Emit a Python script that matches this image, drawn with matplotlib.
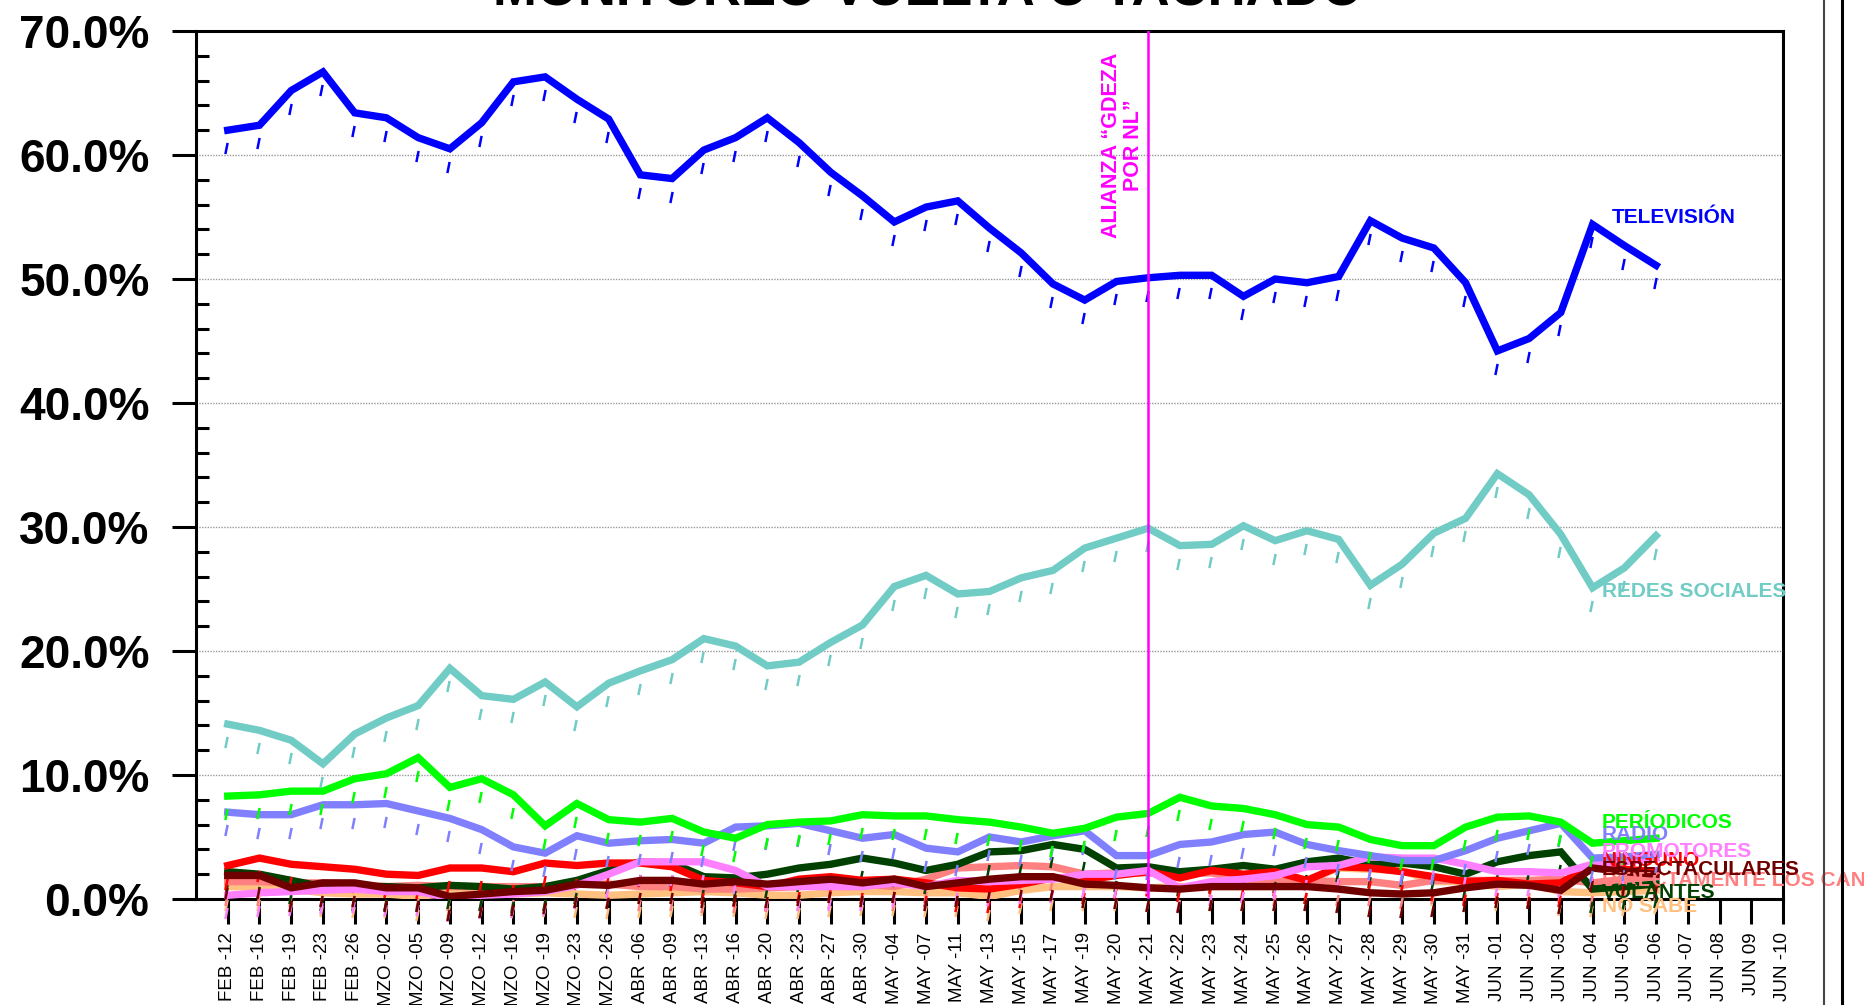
import matplotlib
matplotlib.use("Agg")
import matplotlib.pyplot as plt
from matplotlib.path import Path
from matplotlib.transforms import offset_copy
from matplotlib.ticker import MultipleLocator, FuncFormatter
from matplotlib.lines import Line2D

plt.rcParams['font.family'] = ['Liberation Sans', 'DejaVu Sans']

# categorías (fechas)
fechas = ['FEB -12', 'FEB -16', 'FEB -19', 'FEB -23', 'FEB -26',
          'MZO -02', 'MZO -05', 'MZO -09', 'MZO -12', 'MZO -16', 'MZO -19', 'MZO -23', 'MZO -26',
          'ABR -06', 'ABR -09', 'ABR -13', 'ABR -16', 'ABR -20', 'ABR -23', 'ABR -27', 'ABR -30',
          'MAY -04', 'MAY -07', 'MAY -11', 'MAY -13', 'MAY -15', 'MAY -17', 'MAY -19', 'MAY -20',
          'MAY -21', 'MAY -22', 'MAY -23', 'MAY -24', 'MAY -25', 'MAY -26', 'MAY -27', 'MAY -28',
          'MAY -29', 'MAY -30', 'MAY -31', 'JUN -01', 'JUN -02', 'JUN -03', 'JUN -04', 'JUN -05',
          'JUN -06', 'JUN -07', 'JUN -08', 'JUN 09', 'JUN -10']

# series (% por fecha, hasta JUN-06)
television = [62.0, 62.4, 65.2, 66.7, 63.4, 63.0, 61.4, 60.5, 62.6, 65.9, 66.3, 64.5, 62.9,
              58.4, 58.1, 60.4, 61.4, 63.0, 61.0, 58.6, 56.7, 54.6, 55.8, 56.3, 54.1, 52.1,
              49.6, 48.3, 49.8, 50.1, 50.3, 50.3, 48.6, 50.0, 49.7, 50.2, 54.7, 53.3, 52.5,
              49.7, 44.2, 45.2, 47.3, 54.4, 52.7, 51.1]
redes = [14.1, 13.6, 12.8, 10.9, 13.3, 14.6, 15.6, 18.6, 16.4, 16.1, 17.5, 15.5, 17.4,
         18.4, 19.3, 21.0, 20.4, 18.8, 19.1, 20.7, 22.1, 25.2, 26.1, 24.6, 24.8, 25.9,
         26.5, 28.3, 29.1, 29.9, 28.5, 28.6, 30.1, 28.9, 29.7, 29.0, 25.3, 27.0, 29.5,
         30.7, 34.3, 32.6, 29.4, 25.1, 26.7, 29.3]
periodicos = [8.3, 8.4, 8.7, 8.7, 9.7, 10.1, 11.4, 9.0, 9.7, 8.4, 5.9, 7.7, 6.4,
              6.2, 6.5, 5.4, 4.9, 6.0, 6.2, 6.3, 6.8, 6.7, 6.7, 6.4, 6.2, 5.8,
              5.3, 5.7, 6.6, 6.9, 8.2, 7.5, 7.3, 6.8, 6.0, 5.8, 4.8, 4.3, 4.3,
              5.8, 6.6, 6.7, 6.2, 4.5, 4.7, 4.9]
radio = [7.0, 6.8, 6.8, 7.6, 7.6, 7.7, 7.1, 6.5, 5.6, 4.2, 3.7, 5.1, 4.5,
         4.7, 4.8, 4.5, 5.8, 5.9, 6.1, 5.5, 4.9, 5.2, 4.1, 3.8, 5.0, 4.6,
         5.1, 5.5, 3.5, 3.5, 4.4, 4.6, 5.2, 5.4, 4.4, 3.9, 3.5, 3.1, 3.1,
         3.9, 4.9, 5.5, 6.1, 3.3, 3.4, 3.6]
promotores = [0.3, 0.5, 0.6, 0.7, 0.8, 0.6, 0.6, 0.1, 0.3, 0.4, 0.6, 1.1, 2.0,
              3.0, 3.0, 3.0, 2.3, 1.0, 1.0, 1.0, 1.0, 1.3, 1.0, 1.5, 1.4, 1.5,
              1.6, 2.0, 2.0, 2.3, 0.9, 1.4, 1.6, 1.9, 2.6, 2.7, 3.4, 3.3, 3.3,
              2.8, 2.2, 2.2, 2.1, 2.8, 3.0, 3.3]
ninguno = [2.7, 3.3, 2.8, 2.6, 2.4, 2.0, 1.9, 2.5, 2.5, 2.2, 2.9, 2.7, 2.9,
           2.9, 2.6, 1.5, 1.3, 1.0, 1.6, 1.8, 1.5, 1.6, 1.3, 0.9, 0.8, 1.2,
           1.7, 1.5, 1.9, 2.2, 1.7, 2.3, 2.0, 2.2, 1.5, 2.6, 2.5, 2.2, 1.8,
           1.4, 1.5, 1.2, 1.3, 2.7, 2.4, 2.2]
espectaculares = [1.9, 1.9, 0.9, 1.3, 1.3, 0.9, 0.9, 0.2, 0.4, 0.6, 0.7, 1.2, 1.1,
                  1.5, 1.5, 1.2, 1.4, 1.2, 1.4, 1.6, 1.3, 1.6, 1.0, 1.3, 1.6, 1.8,
                  1.8, 1.2, 1.1, 0.9, 0.8, 1.0, 1.0, 1.0, 1.0, 0.8, 0.5, 0.4, 0.5,
                  0.9, 1.2, 1.1, 0.7, 2.5, 2.2, 2.0]
directamente = [1.4, 1.4, 1.3, 1.3, 1.2, 1.0, 1.1, 1.0, 1.0, 1.0, 1.0, 1.2, 1.2,
                1.0, 1.0, 0.8, 0.8, 0.9, 1.0, 1.1, 1.2, 1.0, 1.6, 2.5, 2.6, 2.7,
                2.6, 2.0, 2.1, 2.1, 2.1, 2.1, 1.6, 1.4, 1.5, 1.4, 1.4, 1.1, 1.5,
                1.5, 1.5, 1.5, 1.6, 1.3, 1.6, 1.8]
volantes = [2.2, 2.0, 1.5, 1.0, 1.0, 1.0, 0.9, 1.1, 1.0, 0.8, 1.0, 1.5, 2.3,
            3.0, 2.9, 1.8, 1.7, 2.0, 2.5, 2.8, 3.3, 2.9, 2.3, 2.8, 3.8, 3.9,
            4.4, 4.0, 2.5, 2.6, 2.2, 2.4, 2.7, 2.4, 3.0, 3.3, 2.8, 2.9, 2.6,
            2.0, 3.0, 3.5, 3.8, 0.8, 1.0, 1.2]
no_sabe = [1.0, 1.0, 0.8, 0.5, 0.4, 0.4, 0.2, 0.5, 0.4, 0.4, 0.5, 0.4, 0.3,
           0.4, 0.5, 0.6, 0.5, 0.3, 0.3, 0.5, 0.6, 0.6, 0.5, 0.5, 0.2, 0.7,
           1.0, 1.0, 1.0, 0.9, 1.0, 1.0, 1.0, 1.0, 1.5, 2.5, 2.4, 2.3, 1.4,
           1.4, 1.0, 1.2, 0.6, 0.5, 0.6, 0.7]

# (nombre, datos, color, posición de la etiqueta y) en orden de dibujo
series = [
    ('NO SABE', no_sabe, '#FFC080', -0.6),
    ('DIRECTAMENTE LOS CANDIDATOS', directamente, '#FF8080', 1.5),
    ('VOLANTES', volantes, '#004000', 0.5),
    ('NINGUNO', ninguno, '#FF0000', 3.1),
    ('PROMOTORES', promotores, '#FF80FF', 3.8),
    ('ESPECTACULARES', espectaculares, '#700000', 2.4),
    ('RADIO', radio, '#8080FF', 5.2),
    ('PERÍODICOS', periodicos, '#00FF00', 6.2),
    ('REDES SOCIALES', redes, '#70CCC4', 24.8),
    ('TELEVISIÓN', television, '#0000FF', 55.0),
]

W, H = 1865, 1005
fig = plt.figure(figsize=(W / 100, H / 100), dpi=100)
ax = fig.add_axes([196 / W, 106 / H, (1783 - 196) / W, (899 - 31) / H])

# marca inclinada bajo cada punto
slash = Path([(-0.2, -1.0), (0.2, 1.0)], [Path.MOVETO, Path.LINETO])
off = offset_copy(ax.transData, fig=fig, x=-1.5, y=-18, units='dots')

x = list(range(len(television)))
for nombre, datos, color, ylab in series:
    ax.plot(x, datos, color=color, lw=5.3, solid_joinstyle='miter', zorder=3)
    ax.plot(x, datos, ls='none', marker=slash, ms=8, mew=1.8, mec=color,
            transform=off, clip_on=False, zorder=3)
    xl = 43.6 if nombre == 'TELEVISIÓN' else 43.3
    ax.text(xl, ylab, nombre, color=color, fontsize=15, fontweight='bold',
            va='center', ha='left', zorder=5, clip_on=False)

# línea del evento
ax.axvline(29, color='#FF00FF', lw=1.8, zorder=4)
ax.text(28.2, 60.8, 'ALIANZA “GDEZA\nPOR NL”', rotation=90, color='#FF00FF',
        fontsize=15.5, fontweight='bold', ha='center', va='center',
        multialignment='center', linespacing=1.05)

ax.set_xlim(-1, 49)
ax.set_ylim(0, 70)
ax.set_xticks(range(len(fechas)))
ax.set_xticklabels(fechas, rotation=90, fontsize=13.5)
ax.yaxis.set_major_locator(MultipleLocator(10))
ax.yaxis.set_minor_locator(MultipleLocator(2))
ax.yaxis.set_major_formatter(FuncFormatter(lambda v, p: f'{v:.1f}%'))
for lab in ax.get_yticklabels():
    lab.set_fontsize(33)
    lab.set_fontweight('bold')

ax.tick_params(axis='x', direction='out', length=18, width=2.2, pad=6)
ax.tick_params(axis='y', which='major', direction='out', length=17.5, width=2.2, pad=16)
ax.tick_params(axis='y', which='minor', direction='in', length=9.5, width=2.2)

for y in range(10, 70, 10):
    ax.axhline(y, color='#999999', lw=1, ls=(0, (1, 1)), zorder=1)

for s in ['left', 'bottom', 'top', 'right']:
    ax.spines[s].set_linewidth(2.2)

# marco a la derecha
fig.add_artist(Line2D([1824 / W, 1824 / W], [0, 1], color='#444444', lw=1.5))
fig.add_artist(Line2D([1842 / W, 1842 / W], [0, 1], color='black', lw=2.2))

# título (recortado en la parte superior)
fig.text(928 / W, 1 - 6 / H, 'MONITOREO VUELTA O TACHADO', fontsize=38,
         fontweight='bold', ha='center', va='baseline')

fig.savefig('out.png', dpi=100)
